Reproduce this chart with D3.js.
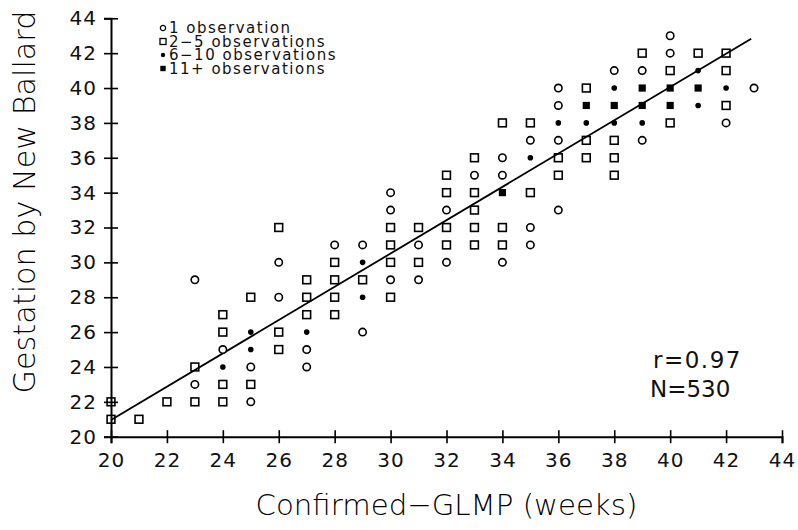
<!DOCTYPE html>
<html>
<head>
<meta charset="utf-8">
<script src="https://cdn.jsdelivr.net/npm/d3@7"></script>
<style>
    body { margin: 0; background: #fff; }
    svg { display: block; }
</style>
</head>
<body>
<div id="chart"></div>
<script>
// [weeks GLMP, Ballard score] per marker class
var oneObs = [
    [23, 29], [23, 23], [24, 25], [25, 24], [25, 22], [26, 30], [26, 28],
    [27, 25], [27, 24], [28, 31], [29, 31], [29, 26], [30, 34], [30, 33], [30, 29],
    [31, 31], [31, 29], [32, 33], [32, 30], [33, 35], [34, 36], [34, 35], [34, 30],
    [35, 37], [35, 32], [35, 31], [36, 40], [36, 39], [36, 37], [36, 33],
    [38, 41], [39, 41], [39, 37], [40, 43], [40, 42], [42, 38], [43, 40]
];
var twoToFiveObs = [
    [20, 22], [20, 21], [21, 21], [22, 22], [23, 24], [23, 22],
    [24, 27], [24, 26], [24, 23], [24, 22], [25, 28], [25, 23],
    [26, 32], [26, 26], [26, 25], [27, 29], [27, 28], [27, 27],
    [28, 30], [28, 29], [28, 28], [28, 27], [29, 29],
    [30, 32], [30, 31], [30, 30], [30, 28], [31, 32], [31, 30],
    [32, 35], [32, 34], [32, 32], [32, 31], [33, 36], [33, 34], [33, 33], [33, 32], [33, 31],
    [34, 38], [34, 32], [34, 31], [35, 38], [35, 34], [36, 36], [36, 35],
    [37, 40], [37, 37], [37, 36], [38, 37], [38, 36], [38, 35],
    [39, 42], [40, 41], [40, 38], [41, 42], [42, 42], [42, 41], [42, 39]
];
var sixToTenObs = [
    [24, 24], [25, 26], [25, 25], [27, 26], [29, 30], [29, 28], [35, 36],
    [36, 38], [37, 38], [38, 40], [38, 38], [39, 38], [41, 41], [41, 39], [42, 40]
];
var elevenPlusObs = [
    [34, 34], [37, 39], [38, 39], [39, 40], [39, 39], [40, 40], [40, 39], [41, 40]
];

var xTicks = d3.range(20, 45, 2);
var yTicks = d3.range(20, 45, 2);
var legendLabels = ["1 observation", "2\u22125 observations", "6\u221210 observations", "11+ observations"];
var fitLine = { intercept: 1.86, slope: 0.955, from: 20, to: 42.9 };
var statLines = ["r=0.97", "N=530"];

var width = 798, height = 530;
var plotLeft = 111, plotRight = 782, plotTop = 18.3, plotBottom = 436.7;
var tickFont = "'DejaVu Sans', sans-serif";

var x = d3.scaleLinear().domain([20, 44]).range([plotLeft, plotRight]);
var y = d3.scaleLinear().domain([20, 44]).range([plotBottom, plotTop]);

var svg = d3.select("#chart")
    .append("svg")
    .attr("width", width)
    .attr("height", height);

// axes, ticks cross the axis line
var xAxis = svg.append("g")
    .attr("transform", `translate(0,${plotBottom})`)
    .call(d3.axisBottom(x).tickValues(xTicks).tickSizeOuter(0).tickSize(6.5).tickPadding(10));
var yAxis = svg.append("g")
    .attr("transform", `translate(${plotLeft},0)`)
    .call(d3.axisLeft(y).tickValues(yTicks).tickSizeOuter(0).tickSize(7).tickPadding(7));

xAxis.selectAll(".tick line").attr("y1", -6.5);
yAxis.selectAll(".tick line").attr("x1", 7);
[xAxis, yAxis].forEach(function (ax) {
    ax.select(".domain").attr("stroke", "#000").attr("stroke-width", 2);
    ax.selectAll(".tick line").attr("stroke", "#000").attr("stroke-width", 1.6);
    ax.selectAll("text")
        .attr("fill", "#111")
        .style("font-family", tickFont)
        .style("font-size", "20px")
        .style("letter-spacing", "1px");
});
xAxis.selectAll("text").attr("dy", "0.71em");

// regression line
svg.append("line")
    .attr("x1", x(fitLine.from))
    .attr("y1", y(fitLine.intercept + fitLine.slope * fitLine.from))
    .attr("x2", x(fitLine.to))
    .attr("y2", y(fitLine.intercept + fitLine.slope * fitLine.to))
    .attr("stroke", "#000")
    .attr("stroke-width", 1.8);

var marks = svg.append("g").attr("class", "marks");

marks.selectAll("circle.one")
    .data(oneObs)
    .enter().append("circle")
    .attr("class", "one")
    .attr("cx", d => x(d[0]))
    .attr("cy", d => y(d[1]))
    .attr("r", 3.7)
    .attr("fill", "#fff")
    .attr("stroke", "#000")
    .attr("stroke-width", 1.6);

marks.selectAll("rect.few")
    .data(twoToFiveObs)
    .enter().append("rect")
    .attr("class", "few")
    .attr("x", d => x(d[0]) - 3.9)
    .attr("y", d => y(d[1]) - 3.9)
    .attr("width", 7.8)
    .attr("height", 7.8)
    .attr("fill", "none")
    .attr("stroke", "#000")
    .attr("stroke-width", 1.6);

marks.selectAll("circle.some")
    .data(sixToTenObs)
    .enter().append("circle")
    .attr("class", "some")
    .attr("cx", d => x(d[0]))
    .attr("cy", d => y(d[1]))
    .attr("r", 2.8)
    .attr("fill", "#000");

marks.selectAll("rect.many")
    .data(elevenPlusObs)
    .enter().append("rect")
    .attr("class", "many")
    .attr("x", d => x(d[0]) - 3.6)
    .attr("y", d => y(d[1]) - 3.6)
    .attr("width", 7.2)
    .attr("height", 7.2)
    .attr("fill", "#000");

// legend
var legend = svg.append("g").attr("transform", "translate(163,28)");
var rowGap = 13.5;
legendLabels.forEach(function (label, i) {
    var row = legend.append("g").attr("transform", `translate(0,${i * rowGap})`);
    if (i == 0) {
        row.append("circle").attr("r", 2.6).attr("fill", "none").attr("stroke", "#000").attr("stroke-width", 1.3);
    } else if (i == 1) {
        row.append("rect").attr("x", -3).attr("y", -3).attr("width", 6).attr("height", 6)
            .attr("fill", "none").attr("stroke", "#000").attr("stroke-width", 1.3);
    } else if (i == 2) {
        row.append("circle").attr("r", 2.2).attr("fill", "#000");
    } else {
        row.append("rect").attr("x", -2.7).attr("y", -2.7).attr("width", 5.4).attr("height", 5.4).attr("fill", "#000");
    }
    row.append("text")
        .attr("x", 6)
        .attr("dy", "0.36em")
        .style("font-family", tickFont)
        .style("font-size", "15px")
        .style("letter-spacing", "1.5px")
        .attr("fill", "#111")
        .text(label);
});

// r and N
svg.selectAll("text.stat")
    .data(statLines)
    .enter().append("text")
    .attr("class", "stat")
    .attr("x", (d, i) => i == 0 ? 653 : 650)
    .attr("y", (d, i) => 368 + i * 29)
    .style("font-family", tickFont)
    .style("font-size", "23px")
    .style("letter-spacing", (d, i) => i == 0 ? "1.5px" : "0px")
    .attr("fill", "#111")
    .text(d => d);

// axis titles, sized to the span they take in the figure
function fitTitle(sel, target) {
    var len = sel.node().getComputedTextLength();
    var size = parseFloat(sel.style("font-size"));
    sel.style("font-size", (size * target / len) + "px");
}

var xTitle = svg.append("text")
    .attr("x", (plotLeft + plotRight) / 2)
    .attr("y", 515)
    .attr("text-anchor", "middle")
    .style("font-family", tickFont)
    .style("font-weight", 200)
    .style("font-size", "26px")
    .attr("fill", "#000")
    .text("Confirmed\u2212GLMP (weeks)");
fitTitle(xTitle, 382);

var yTitle = svg.append("text")
    .attr("transform", "translate(35,202) rotate(-90)")
    .attr("text-anchor", "middle")
    .style("font-family", tickFont)
    .style("font-weight", 200)
    .style("font-size", "26px")
    .attr("fill", "#000")
    .text("Gestation by New Ballard");
fitTitle(yTitle, 383);
</script>
</body>
</html>
